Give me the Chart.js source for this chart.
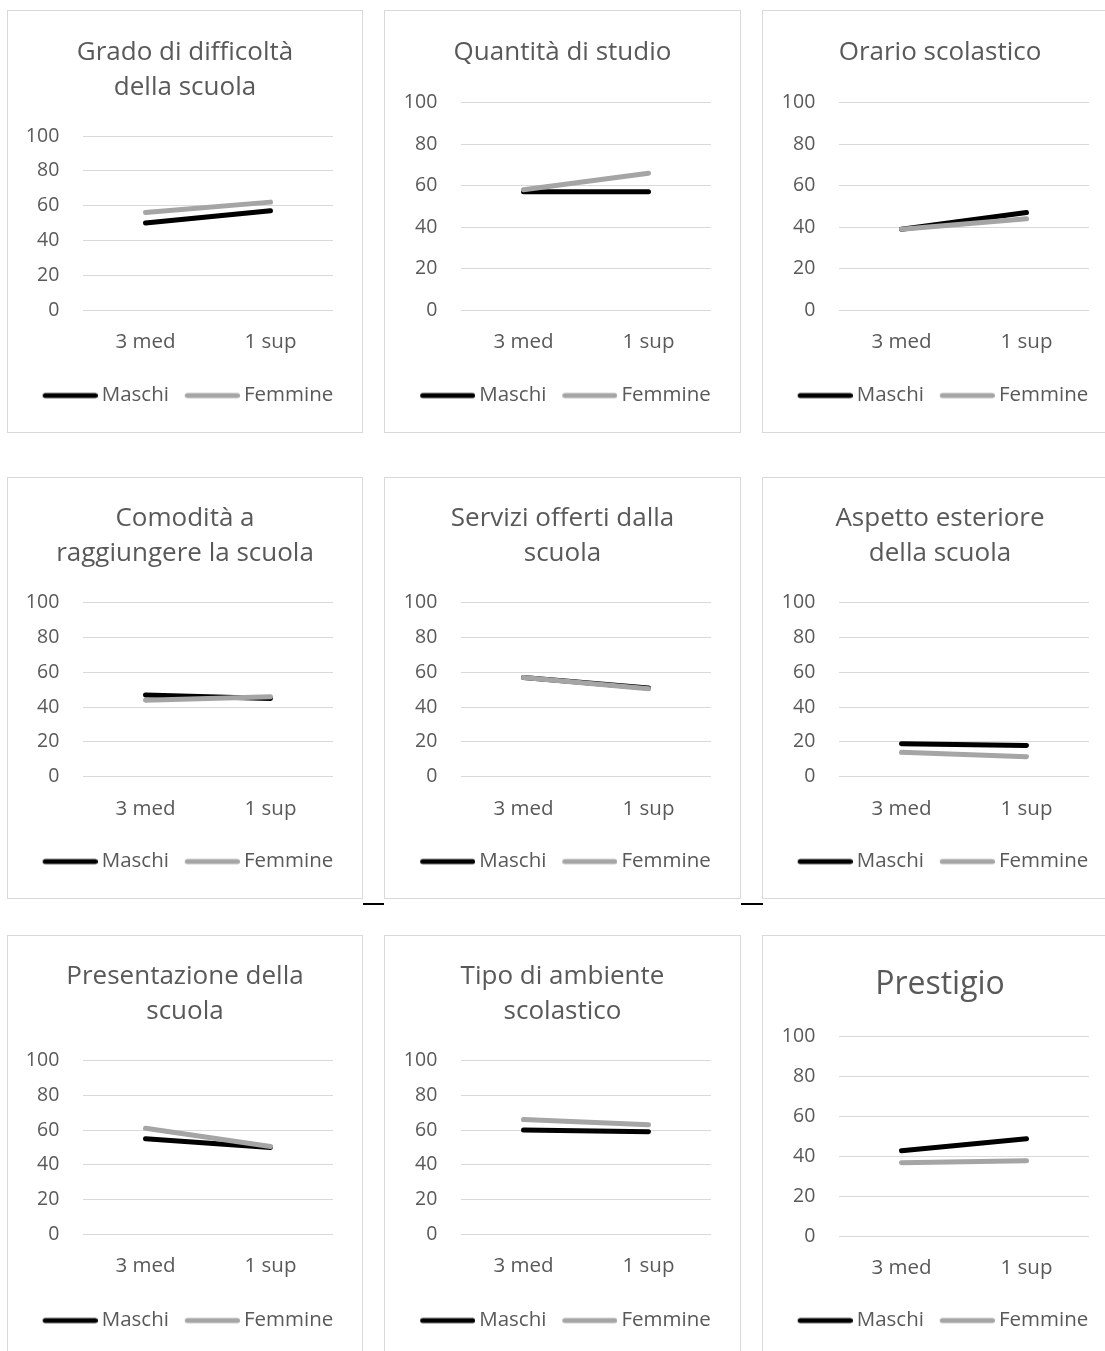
<!DOCTYPE html>
<html>
<head>
<meta charset="utf-8">
<script src="https://cdn.jsdelivr.net/npm/chart.js@4.4.0/dist/chart.umd.min.js"></script>
<style>
  html, body { margin: 0; padding: 0; background: #ffffff; overflow: hidden; width: 1105px; height: 1351px; }
  .panel { position: absolute; border: 1px solid #d9d9d9; box-sizing: border-box; background: #ffffff; }
  .panel canvas { position: absolute; left: 0; top: 0; }
  .dash { position: absolute; height: 2px; background: #000000; }
</style>
</head>
<body>
<div id="root"></div>
<script>
// ---------- data ----------
const categories = ['3 med', '1 sup'];
const seriesNames = ['Maschi', 'Femmine'];
const titles = [
  ['Grado di difficoltà', 'della scuola'],
  ['Quantità di studio'],
  ['Orario scolastico'],
  ['Comodità a', 'raggiungere la scuola'],
  ['Servizi offerti dalla', 'scuola'],
  ['Aspetto esteriore', 'della scuola'],
  ['Presentazione della', 'scuola'],
  ['Tipo di ambiente', 'scolastico'],
  ['Prestigio']
];
const maschi = [
  [50, 57], [57, 57], [39, 47],
  [47, 45], [57, 51], [19, 18],
  [55, 50], [60, 59], [43, 49]
];
const femmine = [
  [56, 62], [58, 66], [39, 44],
  [44, 46], [57, 50.5], [14, 11.5],
  [61, 50.5], [66, 63], [37, 38]
];
const yMin = 0, yMax = 100, yStep = 20;

// ---------- layout (styling only) ----------
const FONT = 'Open Sans';
const TXT = '#595959';
const seriesColors = ['#000000', '#a5a5a5'];
const cols = [
  { x: 7,   w: 356, L: 75, R: 325 },
  { x: 384, w: 357, L: 76, R: 326 },
  { x: 762, w: 356, L: 76, R: 326 }
];
const rows = [
  { y: 10,  h: 423, tp: 23.8, lh: 35 },
  { y: 477, h: 422, tp: 22.7, lh: 35.5 },
  { y: 935, h: 423, tp: 22.7, lh: 35.5 }
];
const plotTB = [
  [125, 299], [91.7, 299], [91.7, 299],
  [124.7, 298.7], [124.7, 298.7], [124.7, 298.7],
  [124.5, 298.3], [124.5, 298.3], [100.7, 300.7]
];

// legend sample: a 55px rounded line; text follows ~4px after it
const SAMPLE_LEN = 55, SAMPLE_GAP = 4, SAMPLE_SHIFT = 6;
const LEG_FS = 20.5;
const LEG_PAD = 10;
const PSW = SAMPLE_SHIFT + SAMPLE_LEN + SAMPLE_GAP - LEG_FS / 2;   // pointStyleWidth
const IMG_W = 2 * (SAMPLE_SHIFT + SAMPLE_LEN - PSW / 2);
function makeSample(color) {
  const c = document.createElement('canvas');
  c.width = Math.round(IMG_W); c.height = 8;
  const g = c.getContext('2d');
  const off = c.width - SAMPLE_LEN;
  g.strokeStyle = color; g.lineWidth = 5; g.lineCap = 'round';
  g.beginPath(); g.moveTo(off + 2.5, 4); g.lineTo(off + SAMPLE_LEN - 2.5, 4); g.stroke();
  return c;
}
const samples = seriesColors.map(makeSample);

const root = document.getElementById('root');

function addDash(left, top, width) {
  const d = document.createElement('div');
  d.className = 'dash';
  d.style.left = left + 'px';
  d.style.top = top + 'px';
  d.style.width = width + 'px';
  document.body.appendChild(d);
}

titles.forEach((title, i) => {
  const col = cols[i % 3];
  const row = rows[Math.floor(i / 3)];
  const div = document.createElement('div');
  div.className = 'panel';
  div.style.left = col.x + 'px';
  div.style.top = row.y + 'px';
  div.style.width = col.w + 'px';
  div.style.height = row.h + 'px';
  const W = col.w - 2, H = row.h - 2;
  const cv = document.createElement('canvas');
  cv.width = W; cv.height = H;
  cv.style.width = W + 'px'; cv.style.height = H + 'px';
  div.appendChild(cv);
  root.appendChild(div);

  const [T, B] = plotTB[i];
  const big = title.length === 1 && title[0] === 'Prestigio';
  const tSize = big ? 32 : 26;
  const lh = big ? 40 : row.lh;
  const tp = big ? 29 : row.tp;
  const pb = T - tp - lh * title.length;

  const padB = 16.2;
  const legH = LEG_FS + LEG_PAD + 10;       // Chart.js horizontal legend height
  const xH = H - padB - legH - B;
  const xPad = big ? 19 : 20;

  new Chart(cv, {
    type: 'line',
    data: {
      labels: categories,
      datasets: [
        { label: seriesNames[0], data: maschi[i], borderColor: seriesColors[0], backgroundColor: seriesColors[0],
          borderWidth: 5, borderCapStyle: 'round', borderJoinStyle: 'round', pointRadius: 0, pointHoverRadius: 0,
          tension: 0, fill: false, order: 1 },
        { label: seriesNames[1], data: femmine[i], borderColor: seriesColors[1], backgroundColor: seriesColors[1],
          borderWidth: 5, borderCapStyle: 'round', borderJoinStyle: 'round', pointRadius: 0, pointHoverRadius: 0,
          tension: 0, fill: false, order: 0 }
      ]
    },
    options: {
      responsive: false,
      animation: false,
      devicePixelRatio: 1,
      events: [],
      layout: { padding: { left: 0, right: 0, top: 0, bottom: padB } },
      plugins: {
        tooltip: { enabled: false },
        title: {
          display: true, text: title, color: TXT,
          font: { family: FONT, size: tSize, weight: 'normal', lineHeight: lh + 'px' },
          padding: { top: tp, bottom: pb }
        },
        legend: {
          position: 'bottom',
          labels: {
            usePointStyle: true, pointStyleWidth: PSW, boxHeight: 8,
            padding: LEG_PAD, color: TXT,
            font: { family: FONT, size: LEG_FS },
            sort: (a, b) => a.datasetIndex - b.datasetIndex,
            generateLabels: (chart) => Chart.defaults.plugins.legend.labels.generateLabels(chart)
              .map(it => Object.assign({}, it, { pointStyle: samples[it.datasetIndex], lineWidth: 0 }))
          }
        }
      },
      scales: {
        x: {
          type: 'category', offset: true,
          grid: { display: false, drawTicks: false },
          border: { display: false },
          ticks: { color: TXT, font: { family: FONT, size: LEG_FS, lineHeight: 1.2 }, padding: xPad, maxRotation: 0, autoSkip: false },
          afterFit: (s) => { s.height = xH; }
        },
        y: {
          type: 'linear', position: 'left', min: yMin, max: yMax,
          grid: { color: '#d9d9d9', lineWidth: 1, drawTicks: false },
          border: { display: false },
          ticks: { stepSize: yStep, color: TXT, font: { family: FONT, size: 19.5 }, padding: 23.7 },
          afterFit: (s) => { s.width = col.L; }
        },
        y2: {
          type: 'linear', position: 'right', display: true,
          grid: { display: false, drawTicks: false },
          border: { display: false },
          ticks: { display: false },
          afterFit: (s) => { s.width = W - col.R; }
        }
      }
    }
  });
});

addDash(363, 903, 21);
addDash(741, 903, 22);
</script>
</body>
</html>
